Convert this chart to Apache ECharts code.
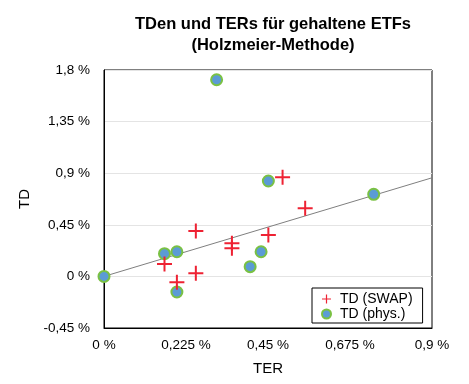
<!DOCTYPE html>
<html><head><meta charset="utf-8">
<script src="https://cdn.jsdelivr.net/npm/echarts@6/dist/echarts.min.js"></script>
<style>html,body{margin:0;padding:0;background:#fff}#c{width:469px;height:384px}</style>
</head><body><div id="c"></div>
<script>
const swapTER = [0.166, 0.200, 0.252, 0.252, 0.351, 0.351, 0.451, 0.490, 0.552];
const swapTD  = [0.108, -0.052, 0.396, 0.027, 0.289, 0.245, 0.361, 0.864, 0.594];
const physTER = [0.000, 0.166, 0.200, 0.200, 0.309, 0.401, 0.431, 0.451, 0.740];
const physTD  = [0.000, 0.198, 0.215, -0.136, 1.715, 0.085, 0.215, 0.832, 0.716];
const trendX = [0, 0.9];
const trendY = [0, 0.86];
const seriesNames = ['TD (SWAP)', 'TD (phys.)'];

const fmt = v => {
  const s = (Math.round(v * 1000) / 1000).toString().replace('.', ',');
  return s + ' %';
};
const plus = 'path://M0,6.5H15V8.5H0Z M6.5,0H8.5V15H6.5Z';
const font = 'Liberation Sans, Arial, Helvetica, sans-serif';

const chart = echarts.init(document.getElementById('c'));
chart.setOption({
  animation: false,
  backgroundColor: '#fff',
  title: {
    text: 'TDen und TERs für gehaltene ETFs\n(Holzmeier-Methode)',
    left: 268, textAlign: 'center', top: 9,
    textStyle: { fontFamily: font, fontSize: 16.5, fontWeight: 'bold', color: '#000', lineHeight: 21 }
  },
  grid: { left: 104, right: 37, top: 70, bottom: 56, show: true, borderColor: '#000', borderWidth: 1 },
  xAxis: {
    type: 'value', min: 0, max: 0.9, interval: 0.225,
    name: 'TER', nameLocation: 'middle', nameGap: 33,
    nameTextStyle: { fontFamily: font, fontSize: 15, color: '#000' },
    axisLine: { show: true, onZero: false, lineStyle: { color: '#000' } },
    axisTick: { show: false },
    splitLine: { show: false },
    axisLabel: { formatter: fmt, fontFamily: font, fontSize: 13.5, color: '#000', margin: 10 }
  },
  yAxis: {
    type: 'value', min: -0.45, max: 1.8, interval: 0.45,
    name: 'TD', nameLocation: 'middle', nameGap: 70,
    nameTextStyle: { fontFamily: font, fontSize: 15, color: '#000' },
    axisLine: { show: true, onZero: false, lineStyle: { color: '#000' } },
    axisTick: { show: false },
    splitLine: { show: true, lineStyle: { color: '#e4e4e4', width: 1 } },
    axisLabel: { formatter: fmt, fontFamily: font, fontSize: 13.5, color: '#000', margin: 14 }
  },
  legend: {
    data: [
      { name: seriesNames[0], icon: plus, itemStyle: { color: '#ee2233' } },
      { name: seriesNames[1], icon: 'circle' }
    ],
    orient: 'vertical', left: 312, top: 288,
    itemWidth: 9, itemHeight: 9, itemGap: 1,
    padding: [4, 10, 2, 9],
    borderColor: '#000', borderWidth: 1, backgroundColor: '#fff',
    textStyle: { fontFamily: font, fontSize: 14, color: '#000', padding: [0, 0, 0, 4] }
  },
  series: [
    {
      type: 'line', data: trendX.map((x, i) => [x, trendY[i]]),
      symbol: 'none', lineStyle: { color: '#7f7f7f', width: 1 }, silent: true, z: 1
    },
    {
      name: seriesNames[1], type: 'scatter',
      data: physTER.map((x, i) => [x, physTD[i]]),
      symbol: 'circle', symbolSize: 11,
      itemStyle: { color: '#5b9bd5', borderColor: '#7ac143', borderWidth: 2, opacity: 1 }, z: 3
    },
    {
      name: seriesNames[0], type: 'scatter',
      data: swapTER.map((x, i) => [x, swapTD[i]]),
      symbol: plus, symbolSize: 15,
      itemStyle: { color: '#ee2233', opacity: 1 }, z: 4
    }
  ]
});
</script></body></html>
